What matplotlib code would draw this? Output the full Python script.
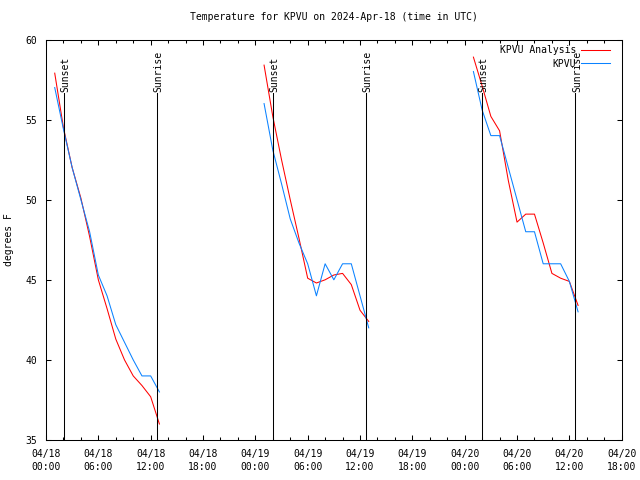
import matplotlib
matplotlib.use("Agg")
import matplotlib.pyplot as plt
import matplotlib.dates as mdates
import matplotlib.transforms as mtransforms
import pandas as pd

# hours after 2024-04-18 00:00 UTC, one list per night
start = pd.Timestamp("2024-04-18 00:00")
night_hours = [list(range(1, 14)), list(range(25, 38)), list(range(49, 62))]

analysis_temps = [
    [57.9, 54.5, 52.0, 50.1, 47.7, 45.0, 43.2, 41.3, 40.0, 39.0, 38.4, 37.7, 36.0],
    [58.4, 55.2, 52.5, 50.0, 47.6, 45.1, 44.8, 45.0, 45.3, 45.4, 44.7, 43.1, 42.4],
    [58.9, 57.1, 55.2, 54.3, 51.2, 48.6, 49.1, 49.1, 47.3, 45.4, 45.1, 44.9, 43.4],
]
obs_temps = [
    [57.0, 54.4, 52.0, 50.0, 48.0, 45.3, 44.0, 42.2, 41.1, 40.0, 39.0, 39.0, 38.0],
    [56.0, 53.1, 51.0, 48.8, 47.3, 46.0, 44.0, 46.0, 45.0, 46.0, 46.0, 44.0, 42.0],
    [58.0, 55.6, 54.0, 54.0, 52.0, 50.0, 48.0, 48.0, 46.0, 46.0, 46.0, 44.9, 43.0],
]

sunset_hours = [2.1, 26.05, 50.0]
sunrise_hours = [12.75, 36.7, 60.7]

station = "KPVU"
font = "DejaVu Sans Mono"
fs = 7
lw = 0.75


def at(h):
    return start + pd.Timedelta(hours=h)


plt.rcParams["font.family"] = font
plt.rcParams["font.size"] = fs

fig = plt.figure(figsize=(6.4, 4.8), dpi=100)
ax = fig.add_axes([46 / 640, 1 - 440 / 480, 575.7 / 640, 400.5 / 480])

for i, hours in enumerate(night_hours):
    times = [at(h) for h in hours]
    ax.plot(times, analysis_temps[i], color="#ff0000", lw=lw,
            label=f"{station} Analysis" if i == 0 else None)
    ax.plot(times, obs_temps[i], color="#0a82ff", lw=lw,
            label=station if i == 0 else None)

# sunset / sunrise markers, label nudged a touch right like the original
line_top = 56.65
shift = mtransforms.ScaledTranslation(1.5 / 100, 0, fig.dpi_scale_trans)
for hours, name in [(sunset_hours, "Sunset"), (sunrise_hours, "Sunrise")]:
    for h in hours:
        ax.plot([at(h), at(h)], [35, line_top], color="black", lw=lw)
        ax.text(at(h), line_top + 0.05, name, rotation=90, ha="center", va="bottom",
                fontsize=fs, transform=ax.transData + shift)

ax.set_xlim(at(0), at(66))
ax.set_ylim(35, 60)
ax.set_yticks([35, 40, 45, 50, 55, 60])

ax.xaxis.set_major_locator(mdates.HourLocator(byhour=range(0, 24, 6)))
ax.xaxis.set_minor_locator(mdates.HourLocator(byhour=range(0, 24, 2)))
ax.xaxis.set_major_formatter(mdates.DateFormatter("%m/%d\n%H:%M"))
for lab in ax.get_xticklabels():
    lab.set_linespacing(1.45)

ax.tick_params(which="both", direction="in", top=True, right=True, width=lw)
ax.tick_params(which="major", length=3.6, pad=6.2)
ax.tick_params(which="minor", length=2.0)
for s in ax.spines.values():
    s.set_linewidth(lw)

ax.set_title(f"Temperature for {station} on 2024-Apr-18 (time in UTC)", fontsize=fs, pad=14)
ax.set_ylabel("degrees F", fontsize=fs)
ax.yaxis.set_label_coords(-0.055, 0.5)

ax.legend(loc="upper right", bbox_to_anchor=(0.9866, 0.996), borderaxespad=0,
          frameon=False, markerfirst=False, handlelength=3.0, handletextpad=0.5,
          labelspacing=0.4, fontsize=fs)

fig.savefig("out.png", dpi=100)
